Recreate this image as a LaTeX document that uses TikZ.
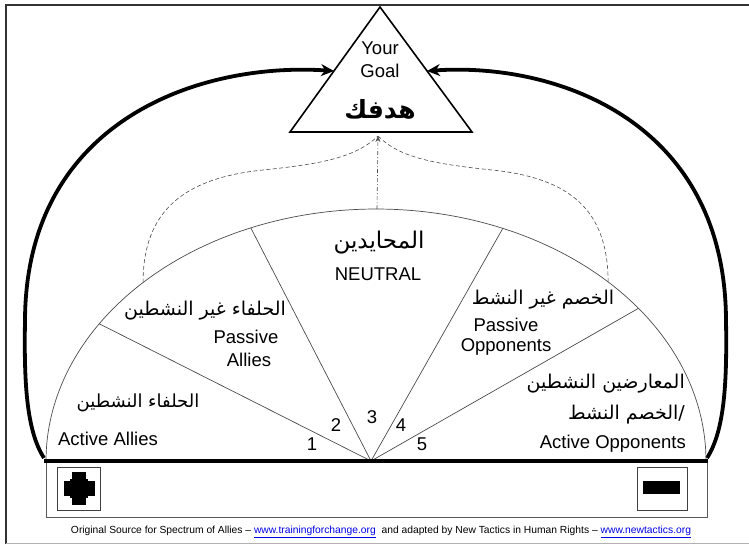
\documentclass[tikz,border=0pt]{standalone}
\usepackage{fontspec}
\setmainfont{Liberation Sans}
\newfontfamily\arabicfont[Script=Arabic]{DejaVu Sans}
\TeXXeTstate=1
\usetikzlibrary{arrows.meta}
\definecolor{linkblue}{RGB}{0,0,230}
\begin{document}
\begin{tikzpicture}[x=1pt,y=-1pt,
  lbl/.style={font=\fontsize{18.5}{20}\selectfont, inner sep=0pt},
  arlbl/.style={font=\arabicfont\fontsize{#1}{22}\selectfont, inner sep=0pt},
  arlbl/.default=19,
  spoke/.style={draw=black!70, line width=0.7pt},
  bigarrow/.style={line width=3.8pt, -{Stealth[length=13pt,width=12pt]}},
  dashline/.style={draw=black!70, line width=0.6pt, dash pattern=on 4pt off 2.5pt},
  signbox/.style={draw=black!75, line width=0.8pt, inner sep=0pt, minimum height=43pt}]
\useasboundingbox (0,0) rectangle (749,544);
\fill[white] (0,0) rectangle (749,544);
% frame
\draw[black!80, line width=2pt] (6,544) -- (6,5) -- (749,5);
\draw[black!30, line width=0.8pt] (6,543.5) -- (749,543.5);

% goal triangle
\coordinate (apex) at (380,7);
\coordinate (bl) at (290,132);
\coordinate (br) at (472,132);
\draw[line width=1.6pt, line join=miter] (apex) -- (bl) -- (br) -- cycle;
\node[lbl] (your) at (380,48) {Your};
\node[lbl] (goal) at (380,71) {Goal};
\node[font=\arabicfont\bfseries\fontsize{25}{27}\selectfont, inner sep=0pt] (goalar) at (380,109) {\beginR هدفك\endR};

% thick arrows
\coordinate (lstart) at (44,458);
\coordinate (rstart) at (707,458);
\coordinate (ltip) at (334,71);
\coordinate (rtip) at (427,71);
\draw[bigarrow] (lstart) .. controls (26,430) and (24,380) .. (25,320) .. controls (26,120) and (200,62) .. (ltip);
\draw[bigarrow] (rstart) .. controls (725,430) and (727,380) .. (726,320) .. controls (725,120) and (555,62) .. (rtip);

% half ellipse
\draw[spoke] plot[domain=0:180, samples=120, smooth] ({376+330*cos(\x)},{461-252*sin(\x)});
\coordinate (hub) at (371,461);
\coordinate (s1) at ({376+330*cos(147)},{461-252*sin(147)});
\coordinate (s2) at ({376+330*cos(112.3)},{461-252*sin(112.3)});
\coordinate (s3) at ({376+330*cos(67.4)},{461-252*sin(67.4)});
\coordinate (s4) at ({376+330*cos(37.3)},{461-252*sin(37.3)});
\draw[spoke] (hub) -- (s1);
\draw[spoke] (hub) -- (s2);
\draw[spoke] (hub) -- (s3);
\draw[spoke] (hub) -- (s4);

% dashed links to goal
\coordinate (d1) at ({376+330*cos(134.9)},{461-252*sin(134.9)});
\coordinate (d2) at ({376+330*cos(45.3)},{461-252*sin(45.3)});
\coordinate (dtop) at (377,209);
\coordinate (dtip) at (378,136);
\draw[dashline] (d1) .. controls (143,210) and (185,178) .. (263,170) .. controls (320,164) and (355,158) .. (dtip);
\draw[dashline] (d2) .. controls (608,210) and (570,178) .. (492,170) .. controls (435,164) and (400,158) .. (dtip);
\draw[draw=black!70, line width=0.6pt, dash pattern=on 4pt off 2pt on 1pt off 2pt, -{Stealth[length=6pt,width=5pt]}] (dtop) -- (dtip);

% base bar and box
\draw[black!65, line width=0.8pt] (46,461) rectangle (707,517);
\draw[line width=4pt] (44,461) -- (708,461);
\node[signbox, minimum width=43pt] (plusbox) at (78.5,488.5) {};
\node[signbox, minimum width=50pt] (minusbox) at (662,488.5) {};
\fill (72,472) rectangle (86,505);
\fill (64,481) rectangle (95,496);
\fill (70,479) rectangle (88,498);
\fill (643,481) rectangle (680,494);

% labels
\node[arlbl=23] (neu-ar) at (379,243) {\beginR المحايدين\endR};
\node[lbl] (neu) at (378,274) {NEUTRAL};
\node[arlbl=19] (pa-ar) at (205,311) {\beginR الحلفاء غير النشطين\endR};
\node[lbl] (pa1) at (246,337) {Passive};
\node[lbl] (pa2) at (249,360) {Allies};
\node[arlbl=18] (aa-ar) at (138,403) {\beginR الحلفاء النشطين\endR};
\node[lbl] (aa) at (108,439) {Active Allies};
\node[arlbl=19] (po-ar) at (543,300) {\beginR الخصم غير النشط\endR};
\node[lbl] (po1) at (506,325) {Passive};
\node[lbl] (po2) at (506,347) {Opponents};
\node[arlbl=19, anchor=east] (ao-ar1) at (685,384) {\beginR المعارضين النشطين\endR};
\node[arlbl=19, anchor=east] (ao-ar2) at (685,415) {\beginR/الخصم النشط\endR};
\node[lbl, anchor=east] (ao) at (686,444) {Active Opponents};
\node[lbl] (n1) at (312,444) {1};
\node[lbl] (n2) at (336,425) {2};
\node[lbl] (n3) at (372,417) {3};
\node[lbl] (n4) at (401,425) {4};
\node[lbl] (n5) at (422,444) {5};

% footer
\node[inner sep=0pt, font=\fontsize{10.5}{12}\selectfont] (src) at (381,532) {\resizebox{620pt}{!}{Original Source for Spectrum of Allies – \textcolor{linkblue}{\underline{www.trainingforchange.org}}\ \ and adapted by New Tactics in Human Rights – \textcolor{linkblue}{\underline{www.newtactics.org}}}};
\end{tikzpicture}
\end{document}
